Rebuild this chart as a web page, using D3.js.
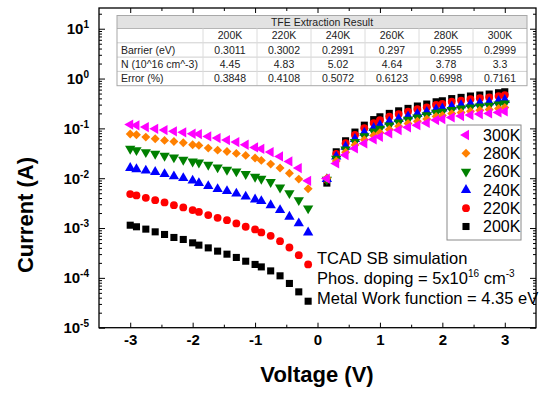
<!DOCTYPE html>
<html>
<head>
<meta charset="utf-8">
<script src="https://cdn.jsdelivr.net/npm/d3@7"></script>
<style>
  html, body { margin: 0; padding: 0; background: #fff; }
  svg { display: block; font-family: "Liberation Sans", Arial, sans-serif; }
</style>
</head>
<body>
<svg id="chart" width="542" height="394"></svg>
<script>
// Bias points of the I-V sweep (V)
const voltages = [-3, -2.9, -2.75, -2.6, -2.45, -2.3, -2.15, -2, -1.9, -1.75, -1.6, -1.45, -1.3, -1.15, -1, -0.9, -0.75, -0.6, -0.45, -0.3, -0.15,
                  0.15, 0.3, 0.45, 0.6, 0.75, 0.9, 1, 1.15, 1.3, 1.45, 1.6, 1.75, 1.9, 2, 2.15, 2.3, 2.45, 2.6, 2.75, 2.9, 3];

// Current magnitude (A) at each temperature
const i200K = [0.00114, 0.00106, 0.000951, 0.000839, 0.000743, 0.000647, 0.000590, 0.000505, 0.000454, 0.000400, 0.000344, 0.000299, 0.000257, 0.000216, 0.000186, 0.000166, 0.000138, 0.000110, 0.0000773, 0.0000524, 0.0000340,
               0.00798, 0.0339, 0.0564, 0.0843, 0.116, 0.150, 0.171, 0.200, 0.225, 0.252, 0.281, 0.308, 0.342, 0.358, 0.396, 0.419, 0.446, 0.467, 0.489, 0.519, 0.543];
const i220K = [0.00480, 0.00452, 0.00404, 0.00363, 0.00327, 0.00288, 0.00259, 0.00229, 0.00211, 0.00182, 0.00160, 0.00144, 0.00124, 0.00106, 0.000937, 0.000817, 0.000697, 0.000546, 0.000407, 0.000286, 0.000186,
               0.00937, 0.0309, 0.0505, 0.0740, 0.101, 0.128, 0.146, 0.171, 0.194, 0.217, 0.242, 0.265, 0.296, 0.310, 0.342, 0.362, 0.384, 0.402, 0.419, 0.445, 0.466];
const i240K = [0.0160, 0.0152, 0.0142, 0.0133, 0.0121, 0.0109, 0.01005, 0.00895, 0.00798, 0.00694, 0.00604, 0.00551, 0.00491, 0.00428, 0.00375, 0.00347, 0.00288, 0.00229, 0.00168, 0.00124, 0.000817,
               0.00959, 0.0271, 0.0427, 0.0615, 0.0816, 0.102, 0.116, 0.136, 0.155, 0.174, 0.194, 0.213, 0.240, 0.251, 0.275, 0.291, 0.308, 0.322, 0.336, 0.355, 0.372];
const i260K = [0.0389, 0.0366, 0.0334, 0.0309, 0.0282, 0.0262, 0.0234, 0.0217, 0.0207, 0.0186, 0.0165, 0.0148, 0.0137, 0.0121, 0.0107, 0.00973, 0.00836, 0.00653, 0.00502, 0.00363, 0.00248,
               0.00937, 0.0245, 0.0379, 0.0536, 0.0700, 0.0867, 0.0982, 0.115, 0.132, 0.149, 0.166, 0.183, 0.206, 0.215, 0.235, 0.250, 0.263, 0.275, 0.286, 0.301, 0.315];
const i280K = [0.0769, 0.0743, 0.0668, 0.0618, 0.0574, 0.0548, 0.0514, 0.0469, 0.0456, 0.0402, 0.0366, 0.0345, 0.0315, 0.0287, 0.0254, 0.0228, 0.0192, 0.0160, 0.0126, 0.00959, 0.00612,
               0.01005, 0.0221, 0.0333, 0.0462, 0.0593, 0.0723, 0.0816, 0.0955, 0.111, 0.125, 0.139, 0.154, 0.174, 0.182, 0.198, 0.209, 0.220, 0.231, 0.240, 0.251, 0.263];
const i300K = [0.119, 0.115, 0.106, 0.0982, 0.0925, 0.0871, 0.0832, 0.0780, 0.0769, 0.0690, 0.0638, 0.0582, 0.0531, 0.0469, 0.0415, 0.0389, 0.0334, 0.0274, 0.0217, 0.0160, 0.00887,
               0.00982, 0.0198, 0.0291, 0.0396, 0.0500, 0.0601, 0.0678, 0.0794, 0.0925, 0.105, 0.116, 0.129, 0.147, 0.154, 0.166, 0.177, 0.185, 0.194, 0.200, 0.209, 0.219];

// Extraction table
const tableTitle = "TFE Extraction Result";
const tableTemps = ["200K", "220K", "240K", "260K", "280K", "300K"];
const rowLabels = ["Barrier (eV)", "N (10^16 cm^-3)", "Error (%)"];
const barrierEV = ["0.3011", "0.3002", "0.2991", "0.297", "0.2955", "0.2999"];
const dopingN = ["4.45", "4.83", "5.02", "4.64", "3.78", "3.3"];
const errorPct = ["0.3848", "0.4108", "0.5072", "0.6123", "0.6998", "0.7161"];

// Axis ticks
const xTickValues = [-3, -2, -1, 0, 1, 2, 3];
const xMinorValues = [-2.5, -1.5, -0.5, 0.5, 1.5, 2.5];
const yTickExponents = [1, 0, -1, -2, -3, -4, -5];

const series = [
  { name: "200K", values: i200K, color: "#000000", shape: d3.symbolSquare, size: 50, rot: 0 },
  { name: "220K", values: i220K, color: "#ff0000", shape: d3.symbolCircle, size: 48, rot: 0 },
  { name: "240K", values: i240K, color: "#0000ff", shape: d3.symbolTriangle, size: 46, rot: 0 },
  { name: "260K", values: i260K, color: "#008000", shape: d3.symbolTriangle, size: 46, rot: 180 },
  { name: "280K", values: i280K, color: "#ff8000", shape: d3.symbolSquare, size: 40, rot: 45 },
  { name: "300K", values: i300K, color: "#ff00ff", shape: d3.symbolTriangle, size: 46, rot: -90 }
];

const svg = d3.select("#chart");
svg.append("rect").attr("width", 542).attr("height", 394).attr("fill", "#fff");

const frame = { left: 99, right: 536, top: 8, bottom: 327.7 };
const x = d3.scaleLinear().domain([-3.5, 3.5]).range([frame.left, frame.right]);
const y = d3.scaleLog().domain([1e-5, Math.pow(10, 1.416)]).range([frame.bottom, frame.top]);

const yMajor = yTickExponents.map(e => Math.pow(10, e));
const yMinor = [];
for (let e = -5; e <= 1; e++) {
  for (let k = 2; k <= 9; k++) {
    const v = k * Math.pow(10, e);
    if (v <= y.domain()[1]) yMinor.push(v);
  }
}

function styleAxis(g) {
  g.select(".domain").remove();
  g.selectAll(".tick line").attr("stroke", "#000").attr("stroke-width", 1);
}

// Left axis with labels
svg.append("g")
  .attr("transform", `translate(${frame.left},0)`)
  .call(d3.axisLeft(y).tickValues(yMajor).tickSize(-6).tickPadding(10))
  .call(styleAxis)
  .call(g => g.selectAll(".tick text")
    .attr("fill", "#000")
    .attr("font-size", 15)
    .attr("font-weight", "bold")
    .attr("font-family", "Liberation Sans, Arial, sans-serif")
    .text(null)
    .each(function (d) {
      const t = d3.select(this);
      t.append("tspan").text("10");
      t.append("tspan").attr("dy", "-0.6em").attr("font-size", 10)
        .text(Math.round(Math.log10(d)));
    }));
svg.append("g")
  .attr("transform", `translate(${frame.left},0)`)
  .call(d3.axisLeft(y).tickValues(yMinor).tickSize(-3).tickFormat(() => ""))
  .call(styleAxis);

// Right mirror axis
svg.append("g")
  .attr("transform", `translate(${frame.right},0)`)
  .call(d3.axisRight(y).tickValues(yMajor).tickSize(-6).tickFormat(() => ""))
  .call(styleAxis);
svg.append("g")
  .attr("transform", `translate(${frame.right},0)`)
  .call(d3.axisRight(y).tickValues(yMinor).tickSize(-3).tickFormat(() => ""))
  .call(styleAxis);

// Bottom axis with labels
svg.append("g")
  .attr("transform", `translate(0,${frame.bottom})`)
  .call(d3.axisBottom(x).tickValues(xTickValues).tickSize(-5).tickPadding(7)
    .tickFormat(d => String(d)))
  .call(styleAxis)
  .call(g => g.selectAll(".tick text")
    .attr("fill", "#000")
    .attr("font-size", 15)
    .attr("font-weight", "bold")
    .attr("font-family", "Liberation Sans, Arial, sans-serif"));
svg.append("g")
  .attr("transform", `translate(0,${frame.bottom})`)
  .call(d3.axisBottom(x).tickValues(xMinorValues).tickSize(-3).tickFormat(() => ""))
  .call(styleAxis);

// Top mirror axis
svg.append("g")
  .attr("transform", `translate(0,${frame.top})`)
  .call(d3.axisTop(x).tickValues(xTickValues).tickSize(-5).tickFormat(() => ""))
  .call(styleAxis);
svg.append("g")
  .attr("transform", `translate(0,${frame.top})`)
  .call(d3.axisTop(x).tickValues(xMinorValues).tickSize(-3).tickFormat(() => ""))
  .call(styleAxis);

// Plot frame
svg.append("rect")
  .attr("x", frame.left).attr("y", frame.top)
  .attr("width", frame.right - frame.left).attr("height", frame.bottom - frame.top)
  .attr("fill", "none").attr("stroke", "#000").attr("stroke-width", 1.3);

// Data markers
const markers = svg.append("g");
series.forEach(s => {
  const sym = d3.symbol().type(s.shape).size(s.size);
  markers.append("g").selectAll("path")
    .data(voltages.map((v, i) => [v, s.values[i]]))
    .join("path")
    .attr("d", sym)
    .attr("transform", d => `translate(${x(d[0])},${y(d[1])}) rotate(${s.rot})`)
    .attr("fill", s.color);
});

// Extraction table
const tb = { x0: 117, x1: 527, y0: 15.5, titleH: 13, rowH: 14.3, labelW: 86 };
const colW = (tb.x1 - tb.x0 - tb.labelW) / tableTemps.length;
const tg = svg.append("g").attr("font-size", 10.5).attr("fill", "#222");
const tableBottom = tb.y0 + tb.titleH + 4 * tb.rowH;
tg.append("rect").attr("x", tb.x0).attr("y", tb.y0)
  .attr("width", tb.x1 - tb.x0).attr("height", tableBottom - tb.y0)
  .attr("fill", "#fff");
tg.append("rect").attr("x", tb.x0).attr("y", tb.y0)
  .attr("width", tb.x1 - tb.x0).attr("height", tb.titleH)
  .attr("fill", "#e2e2e2");
tg.append("text").attr("x", (tb.x0 + tb.x1) / 2).attr("y", tb.y0 + tb.titleH / 2 + 3.8)
  .attr("text-anchor", "middle").text(tableTitle);
// grid lines
for (let r = 1; r < 4; r++) {
  const yy = tb.y0 + tb.titleH + r * tb.rowH;
  tg.append("line").attr("x1", tb.x0).attr("x2", tb.x1).attr("y1", yy).attr("y2", yy)
    .attr("stroke", "#cfcfcf").attr("stroke-width", 1);
}
tg.append("line").attr("x1", tb.x0).attr("x2", tb.x1)
  .attr("y1", tb.y0 + tb.titleH).attr("y2", tb.y0 + tb.titleH)
  .attr("stroke", "#b5b5b5");
for (let c = 0; c < tableTemps.length; c++) {
  const xx = tb.x0 + tb.labelW + c * colW;
  tg.append("line").attr("x1", xx).attr("x2", xx)
    .attr("y1", tb.y0 + tb.titleH).attr("y2", tableBottom)
    .attr("stroke", "#dcdcdc");
}
tg.append("rect").attr("x", tb.x0).attr("y", tb.y0)
  .attr("width", tb.x1 - tb.x0).attr("height", tableBottom - tb.y0)
  .attr("fill", "none").attr("stroke", "#a8a8a8").attr("stroke-width", 1);

const tableRows = [[""].concat(tableTemps),
                   [rowLabels[0]].concat(barrierEV),
                   [rowLabels[1]].concat(dopingN),
                   [rowLabels[2]].concat(errorPct)];
tableRows.forEach((row, r) => {
  const yy = tb.y0 + tb.titleH + r * tb.rowH + tb.rowH / 2 + 3.8;
  row.forEach((cell, c) => {
    if (c === 0) {
      tg.append("text").attr("x", tb.x0 + 4).attr("y", yy).text(cell);
    } else {
      tg.append("text").attr("x", tb.x0 + tb.labelW + (c - 0.5) * colW).attr("y", yy)
        .attr("text-anchor", "middle").text(cell);
    }
  });
});

// Legend
const lg = { x: 447, y: 125, w: 74, h: 115, first: 135, step: 18.3 };
svg.append("rect").attr("x", lg.x).attr("y", lg.y).attr("width", lg.w).attr("height", lg.h)
  .attr("fill", "#fff").attr("stroke", "#8a8a8a").attr("stroke-width", 1);
series.slice().reverse().forEach((s, i) => {
  const cy = lg.first + i * lg.step;
  svg.append("path")
    .attr("d", d3.symbol().type(s.shape).size(s.size)())
    .attr("transform", `translate(${lg.x + 19},${cy}) rotate(${s.rot})`)
    .attr("fill", s.color);
  svg.append("text").attr("x", lg.x + 36).attr("y", cy).attr("dy", "0.36em")
    .attr("font-size", 16).attr("fill", "#000").text(s.name);
});

// Simulation notes
const notes = svg.append("g").attr("font-size", 16.5).attr("fill", "#000");
notes.append("text").attr("x", 317).attr("y", 264).text("TCAD SB simulation");
const n2 = notes.append("text").attr("x", 317).attr("y", 284);
n2.append("tspan").text("Phos. doping = 5x10");
n2.append("tspan").attr("dy", -7).attr("font-size", 10).text("16");
n2.append("tspan").attr("dy", 7).text(" cm");
n2.append("tspan").attr("dy", -7).attr("font-size", 10).text("-3");
notes.append("text").attr("x", 317).attr("y", 304).text("Metal Work function = 4.35 eV");

// Axis titles
svg.append("text").attr("x", 317).attr("y", 382)
  .attr("text-anchor", "middle").attr("font-size", 22).attr("font-weight", "bold")
  .text("Voltage (V)");
svg.append("text").attr("transform", "translate(33,215) rotate(-90)")
  .attr("text-anchor", "middle").attr("font-size", 22).attr("font-weight", "bold")
  .text("Current (A)");
</script>
</body>
</html>
